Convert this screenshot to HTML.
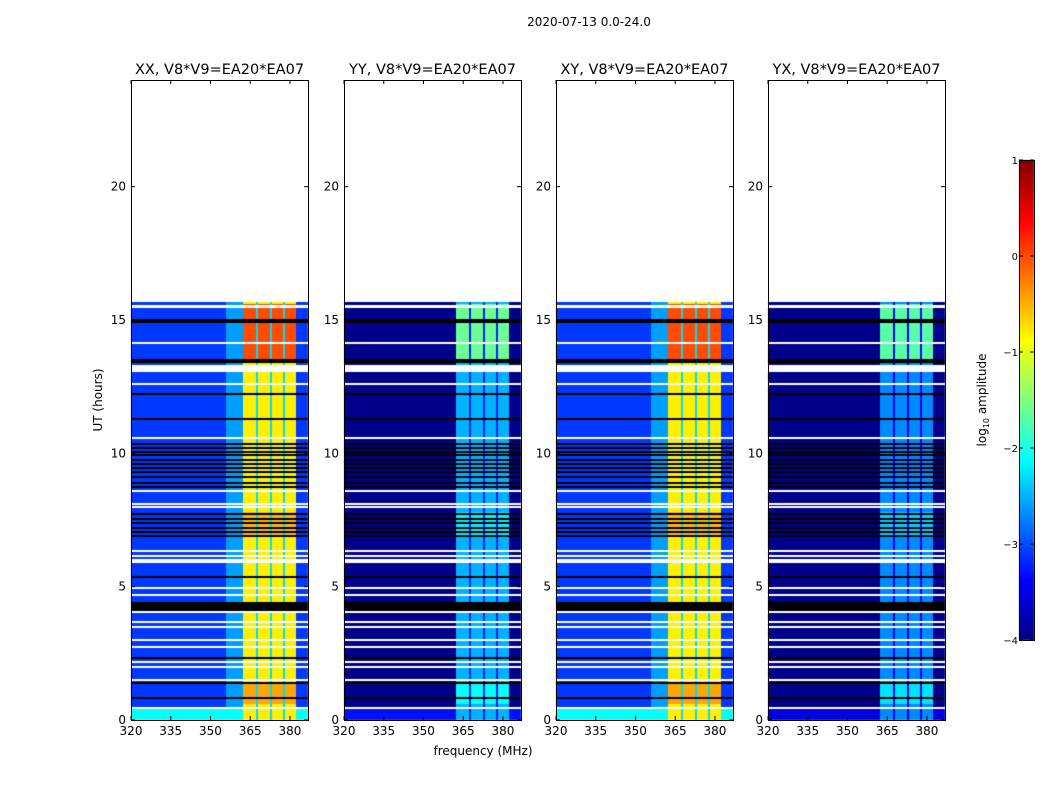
<!DOCTYPE html>
<html><head><meta charset="utf-8">
<style>
body{margin:0;background:#fff;width:1050px;height:800px;overflow:hidden;font-family:"DejaVu Sans","Liberation Sans",sans-serif}
#wrap{position:relative;width:1050px;height:800px}
canvas{position:absolute}
svg{position:absolute;left:0;top:0;font-family:"DejaVu Sans","Liberation Sans",sans-serif}
</style></head><body>
<div id="wrap">
<canvas id="cv" width="1050" height="800" style="left:0;top:0"></canvas>
<svg id="sv" width="1050" height="800"></svg>
</div>
<script>
// ---- data ----
const panelTitles = ["XX, V8*V9=EA20*EA07","YY, V8*V9=EA20*EA07","XY, V8*V9=EA20*EA07","YX, V8*V9=EA20*EA07"];
const xTicks = [320,335,350,365,380];
const yTicks = [0,5,10,15,20];
const cbTicks = [1,0,-1,-2,-3,-4];
const dataEndHour = 15.67;
// band columns (MHz)
const colStart = [362.3,368.0,373.2,378.3];
const colEnd   = [367.0,372.4,377.4,382.4];
// per-panel levels (log10 amplitude)
const bgLevel    = [-3.1,-3.95,-3.1,-3.95];
const edgeLevel  = [-2.6,-3.95,-2.6,-3.95];
const bandLevel  = [-0.8,-2.5,-0.8,-2.7];
const hotLevel   = [0.0,-1.6,0.0,-1.7];
const gapLevel   = [-2.3,-3.2,-2.3,-3.4];
const lowLevel   = [-2.1,-3.3,-2.1,-3.5];
// time ranges (hours)
const hotRanges  = [[13.4,15.6],[6.85,7.8],[0.6,1.4]];
const hotWeight  = [1.0,0.35,0.45];
const whiteRows  = [[15.55,15.58],[15.48,15.51],[14.13,14.17],[13.05,13.3],[12.58,12.62],[10.58,10.62],[8.58,8.63],[8.08,8.12],[7.98,8.02],[6.3,6.38],[6.1,6.2],[5.9,6.03],[4.93,4.98],[4.68,4.73],[4.06,4.1],[3.68,3.72],[3.48,3.52],[2.98,3.02],[2.73,2.77],[2.15,2.23],[1.96,2.02],[1.48,1.52],[0.43,0.47]];
const blackRows  = [[15.0,15.04],[14.93,14.96],[13.48,13.53],[13.42,13.45],[12.23,12.27],[11.28,11.32],[10.35,10.38],[10.2,10.25],[10.05,10.1],[9.92,9.96],[9.75,9.8],[9.6,9.64],[9.45,9.5],[9.3,9.34],[9.1,9.14],[8.9,8.93],[8.75,8.78],[7.75,7.78],[7.55,7.58],[7.4,7.43],[7.2,7.23],[7.05,7.08],[6.9,6.93],[5.33,5.4],[4.1,4.42],[2.33,2.37],[1.38,1.42],[0.85,0.88]];
</script>
<script>
const NS="http://www.w3.org/2000/svg";
const panelX=[131,344,556,768], panelW=177, py0=80, py1=720;
const fMin=320, fMax=386.8, hMax=24;
function xs(p,f){return panelX[p]+(f-fMin)/(fMax-fMin)*panelW;}
function ys(h){return py1-(h/hMax)*(py1-py0);}
function jetRGB(v){
  function c(x){return Math.max(0,Math.min(1,x));}
  return [c(1.5-Math.abs(4*v-3))*255, c(1.5-Math.abs(4*v-2))*255, c(1.5-Math.abs(4*v-1))*255];
}
function inR(h,rs){for(let i=0;i<rs.length;i++){if(h>=rs[i][0]&&h<rs[i][1])return i;}return -1;}
function level(p,f,h){
  let col=-1;
  for(let i=0;i<colStart.length;i++){if(f>=colStart[i]&&f<colEnd[i])col=i;}
  const hi=inR(h,hotRanges);
  if(col>=0){
    let l=bandLevel[p];
    if(hi>=0) l=l+(hotLevel[p]-bandLevel[p])*hotWeight[hi];
    return l;
  }
  if(f>=colStart[0]&&f<colEnd[colEnd.length-1]) return gapLevel[p];
  if(h<0.4) return lowLevel[p];
  if(f>356&&f<colStart[0]) return edgeLevel[p];
  return bgLevel[p];
}
const cv=document.getElementById('cv'), ctx=cv.getContext('2d');
for(let p=0;p<4;p++){
  const yTop=Math.round(ys(dataEndHour));
  const img=ctx.createImageData(panelW,py1-yTop);
  for(let py=0;py<py1-yTop;py++){
    const h=(py1-(yTop+py+0.5))/(py1-py0)*hMax;
    for(let px=0;px<panelW;px++){
      const f=fMin+(px+0.5)/panelW*(fMax-fMin);
      const c=jetRGB((level(p,f,h)+4)/5);
      const k=(py*panelW+px)*4;
      img.data[k]=c[0];img.data[k+1]=c[1];img.data[k+2]=c[2];img.data[k+3]=255;
    }
  }
  ctx.putImageData(img,panelX[p],yTop);
  ctx.fillStyle="#000";
  blackRows.forEach(r=>{const y=Math.round(ys(r[1]));ctx.fillRect(panelX[p],y,panelW,Math.max(2,Math.round(ys(r[0]))-y));});
  ctx.fillStyle="#fff";
  whiteRows.forEach(r=>{const y=Math.round(ys(r[1]));ctx.fillRect(panelX[p],y,panelW,Math.max(2,Math.round(ys(r[0]))-y));});
}
const cbX=1019,cbW=15,cbY0=160,cbY1=640;
for(let y=cbY0;y<cbY1;y++){const c=jetRGB(1-(y-cbY0)/(cbY1-cbY0));ctx.fillStyle=`rgb(${c[0]|0},${c[1]|0},${c[2]|0})`;ctx.fillRect(cbX,y,cbW,1);}
const sv=document.getElementById('sv');
function el(tag,attrs,txt){const e=document.createElementNS(NS,tag);for(const k in attrs)e.setAttribute(k,attrs[k]);if(txt!==undefined)e.textContent=txt;sv.appendChild(e);return e;}
for(let p=0;p<4;p++){
  const fr=el('rect',{x:panelX[p]+0.5,y:py0+0.5,width:panelW,height:py1-py0,fill:'none',stroke:'#000','stroke-width':1});
  
  
  const t=el('text',{x:panelX[p]+panelW/2,y:74,'text-anchor':'middle','font-size':14.5,fill:'#000'},panelTitles[p]);
  
  
  xTicks.forEach(v=>{
    const x=xs(p,v);
    el('line',{x1:x,y1:py1,x2:x,y2:py1-4,stroke:'#000'});
    el('line',{x1:x,y1:py0,x2:x,y2:py0+4,stroke:'#000'});
    const tl=el('text',{x:x,y:py1+15,'text-anchor':'middle','font-size':12},String(v));
    
    
  });
  yTicks.forEach(v=>{
    const y=ys(v);
    el('line',{x1:panelX[p],y1:y,x2:panelX[p]+4,y2:y,stroke:'#000'});
    el('line',{x1:panelX[p]+panelW,y1:y,x2:panelX[p]+panelW-4,y2:y,stroke:'#000'});
    const tl=el('text',{x:panelX[p]-5,y:y+4,'text-anchor':'end','font-size':12},String(v));
    
    
  });
}
const st=el('text',{x:589,y:26,'text-anchor':'middle','font-size':12},"2020-07-13 0.0-24.0");


const yl=el('text',{x:0,y:0,'text-anchor':'middle','font-size':12,transform:'translate(102,400) rotate(-90)'},"UT (hours)");


const xl=el('text',{x:483,y:755,'text-anchor':'middle','font-size':12},"frequency (MHz)");


const cbf=el('rect',{x:cbX+0.5,y:cbY0+0.5,width:cbW,height:cbY1-cbY0,fill:'none',stroke:'#000'});


cbTicks.forEach(v=>{
  const y=cbY0+(1-v)/5*(cbY1-cbY0);
  el('line',{x1:cbX,y1:y,x2:cbX+4,y2:y,stroke:'#000'});
  el('line',{x1:cbX+cbW,y1:y,x2:cbX+cbW-4,y2:y,stroke:'#000'});
  const tl=el('text',{x:cbX-1,y:y+4,'text-anchor':'end','font-size':10},v<0?"\u2212"+(-v):String(v));
  
  
});
const cl=el('text',{x:0,y:0,'text-anchor':'middle','font-size':12,transform:'translate(986,400) rotate(-90)'});
cl.innerHTML='log<tspan font-size="8" dy="3">10</tspan><tspan dy="-3"> amplitude</tspan>';


</script>
</body></html>
